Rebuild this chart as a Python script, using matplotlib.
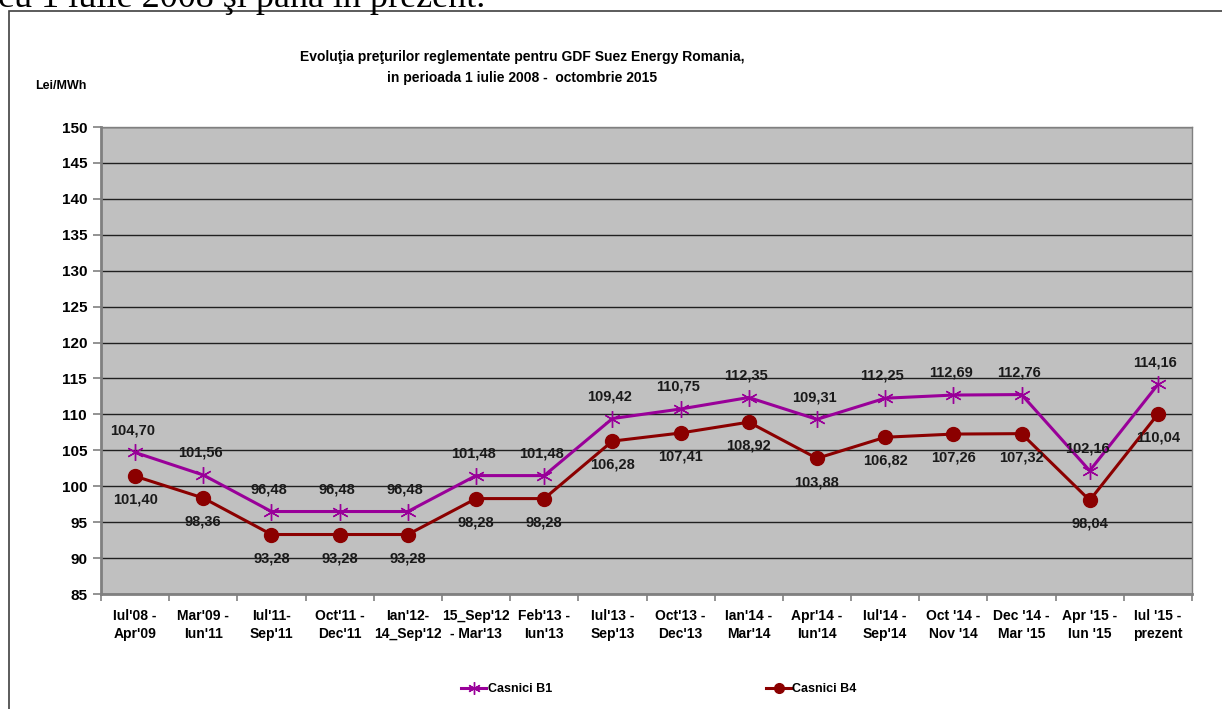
import matplotlib
matplotlib.use("Agg")
import matplotlib.pyplot as plt
from matplotlib import font_manager
from matplotlib.lines import Line2D
from matplotlib.patches import Rectangle

categories = ["Iul'08 -\nApr'09", "Mar'09 -\nIun'11", "Iul'11-\nSep'11", "Oct'11 -\nDec'11",
              "Ian'12-\n14_Sep'12", "15_Sep'12\n- Mar'13", "Feb'13 -\nIun'13", "Iul'13 -\nSep'13",
              "Oct'13 -\nDec'13", "Ian'14 -\nMar'14", "Apr'14 -\nIun'14", "Iul'14 -\nSep'14",
              "Oct '14 -\nNov '14", "Dec '14 -\nMar '15", "Apr '15 -\nIun '15", "Iul '15 -\nprezent"]
b1 = [104.70, 101.56, 96.48, 96.48, 96.48, 101.48, 101.48, 109.42, 110.75, 112.35,
      109.31, 112.25, 112.69, 112.76, 102.16, 114.16]
b4 = [101.40, 98.36, 93.28, 93.28, 93.28, 98.28, 98.28, 106.28, 107.41, 108.92,
      103.88, 106.82, 107.26, 107.32, 98.04, 110.04]
yticks = list(range(85, 151, 5))

names = {f.name for f in font_manager.fontManager.ttflist}
sans = "Liberation Sans Narrow" if "Liberation Sans Narrow" in names else "Liberation Sans"
serif = "Liberation Serif" if "Liberation Serif" in names else "DejaVu Serif"
plt.rcParams['font.family'] = [sans, 'DejaVu Sans']

W, H = 1222, 709
fig = plt.figure(figsize=(W/100, H/100), dpi=100)
fig.patch.set_facecolor('white')

# frame
fig.patches.append(Rectangle((9/W, -0.1), 1.2, 1 - 11/H + 0.1, transform=fig.transFigure,
                             fill=False, edgecolor='#404040', linewidth=1.2, clip_on=False))
fig.text(-2/W, 1 - 7/H, "cu 1 iulie 2008 şi până în prezent.", family=[serif, 'DejaVu Serif'],
         fontsize=26, va='baseline', ha='left', color='black')

left, right, top, bottom = 101, 1192, 127, 594
ax = fig.add_axes([left/W, 1 - bottom/H, (right-left)/W, (bottom-top)/H])
ax.set_facecolor('#C0C0C0')
x = list(range(len(categories)))
ax.plot(x, b1, color='#990099', lw=2.2, marker=(6, 2, 0), ms=12, mew=1, zorder=3)
ax.plot(x, b4, color='#8B0000', lw=2.2, marker='o', ms=10, zorder=3)

for xi, v in zip(x, b1):
    ax.annotate(f"{v:.2f}".replace('.', ','), (xi, v), xytext=(-2, 11), textcoords='offset points',
                ha='center', va='bottom', fontsize=10.5, fontweight='bold', color='#1a1a1a')
for xi, v in zip(x, b4):
    ax.annotate(f"{v:.2f}".replace('.', ','), (xi, v), xytext=(0, -12), textcoords='offset points',
                ha='center', va='top', fontsize=10.5, fontweight='bold', color='#1a1a1a')

ax.set_xlim(-0.5, len(categories) - 0.5)
ax.set_ylim(85, 150)
ax.set_yticks(yticks)
ax.set_yticklabels([str(t) for t in yticks], fontsize=11, fontweight='bold')
ax.set_xticks([i - 0.5 for i in range(len(categories) + 1)])
ax.set_xticklabels([])
ax.set_xticks(x, minor=True)
ax.set_xticklabels(categories, minor=True, fontsize=10, fontweight='bold', linespacing=1.3)
ax.tick_params(axis='x', which='minor', length=0, pad=11)
ax.tick_params(axis='x', which='major', length=5, color='#808080', width=1.2)
ax.tick_params(axis='y', length=6, color='#808080', width=1.2, pad=4)
ax.yaxis.grid(True, color='#202020', linewidth=1)
ax.set_axisbelow(True)
for s in ['left', 'bottom']:
    ax.spines[s].set_color('#808080')
    ax.spines[s].set_linewidth(2)
for s in ['top', 'right']:
    ax.spines[s].set_color('#808080')
    ax.spines[s].set_linewidth(1)

fig.text(522/W, 1 - 57/H, "Evoluţia preţurilor reglementate pentru GDF Suez Energy Romania,",
         ha='center', va='center', fontsize=10, fontweight='bold')
fig.text(522/W, 1 - 78/H, "in perioada 1 iulie 2008 -  octombrie 2015",
         ha='center', va='center', fontsize=10, fontweight='bold')
fig.text(35/W, 1 - 86/H, "Lei/MWh", ha='left', va='center', fontsize=9, fontweight='bold')

h1 = Line2D([], [], color='#990099', lw=2.2, marker=(6, 2, 0), ms=9, mew=1)
h4 = Line2D([], [], color='#8B0000', lw=2.2, marker='o', ms=7)
fig.legend([h1], ["Casnici B1"], loc='center left', bbox_to_anchor=(455/W, 1 - 689/H),
           frameon=False, handlelength=2.0, handletextpad=0.1, borderpad=0,
           prop={'weight': 'bold', 'size': 9})
fig.legend([h4], ["Casnici B4"], loc='center left', bbox_to_anchor=(760/W, 1 - 689/H),
           frameon=False, handlelength=2.0, handletextpad=0.1, borderpad=0,
           prop={'weight': 'bold', 'size': 9})

fig.savefig("out.png", dpi=100)
